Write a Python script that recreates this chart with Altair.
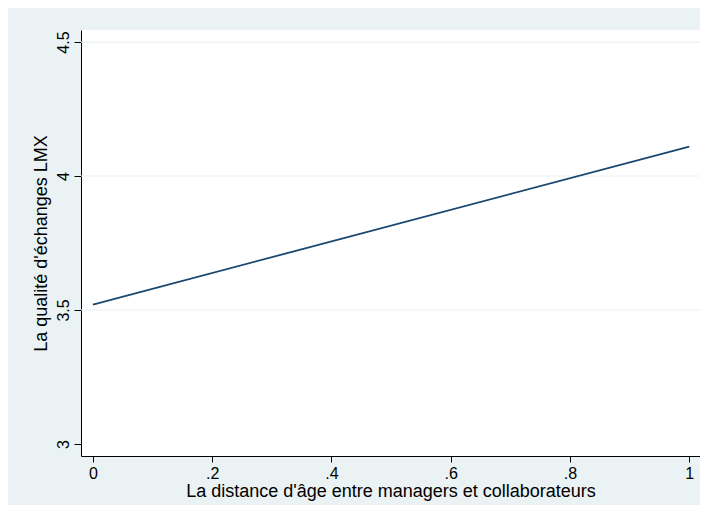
import altair as alt
import pandas as pd

# Data
x_vals = [0.0, 1.0]
y_vals = [3.52, 4.11]

x_ticks = [0, 0.2, 0.4, 0.6, 0.8, 1]
x_tick_labels = ["0", ".2", ".4", ".6", ".8", "1"]
y_ticks = [3, 3.5, 4, 4.5]
y_grid = [3.5, 4, 4.5]

x_title = "La distance d'âge entre managers et collaborateurs"
y_title = "La qualité d'échanges LMX"

line_df = pd.DataFrame({"x": x_vals, "y": y_vals})
grid_df = pd.DataFrame({"y": y_grid})

# build label expression from the tick label list
expr = "''"
for v, lab in reversed(list(zip(x_ticks, x_tick_labels))):
    expr = f"abs(datum.value - {v}) < 1e-6 ? '{lab}' : ({expr})"

FONT = "Liberation Sans"
LAB = 16
TIT = 18

xscale = alt.Scale(domain=[-0.02, 1.018], nice=False, zero=False)
yscale = alt.Scale(domain=[2.955, 4.545], nice=False, zero=False)

x_axis = alt.Axis(
    values=x_ticks,
    labelExpr=expr,
    grid=False,
    domainColor="black",
    tickColor="black",
    tickSize=6,
    labelPadding=3,
    labelFontSize=LAB,
    labelColor="black",
    titleFontSize=TIT,
    titleFontWeight="normal",
    titleColor="black",
    titlePadding=1,
    labelFont=FONT,
    titleFont=FONT,
)

y_axis = alt.Axis(
    values=y_ticks,
    format=".1~f",
    grid=False,
    domainColor="black",
    tickColor="black",
    tickSize=7,
    labelAngle=-90,
    labelAlign="center",
    labelBaseline="bottom",
    labelPadding=3,
    labelFontSize=LAB,
    labelColor="black",
    titleFontSize=TIT,
    titleFontWeight="normal",
    titleColor="black",
    titlePadding=5,
    labelFont=FONT,
    titleFont=FONT,
)

grid = alt.Chart(grid_df).mark_rule(color="#EAF2F3", strokeWidth=1.2).encode(
    y=alt.Y("y:Q", scale=yscale, title=y_title, axis=y_axis),
    x=alt.value(0),
    x2=alt.value(619),
)

line = alt.Chart(line_df).mark_line(color="#1A476F", strokeWidth=1.8).encode(
    x=alt.X("x:Q", scale=xscale, title=x_title, axis=x_axis),
    y=alt.Y("y:Q", scale=yscale, title=y_title, axis=y_axis),
)

chart = (
    alt.layer(grid, line)
    .properties(
        width=619,
        height=426,
        background="#EAF2F3",
        padding={"left": 73, "top": 22, "right": 0, "bottom": 49},
        autosize=alt.AutoSizeParams(type="none"),
    )
    .configure_view(fill="white", stroke=None)
)

chart.save("out.html", embed_options={"renderer": "svg", "actions": False})
